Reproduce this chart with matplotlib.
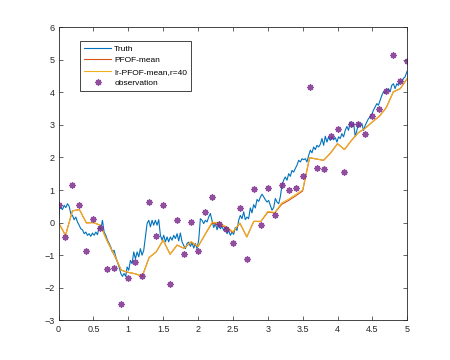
import numpy as np
import matplotlib
matplotlib.use("Agg")
import matplotlib.pyplot as plt

plt.rcParams['font.family'] = ['Liberation Sans', 'DejaVu Sans']

truth_t = [0.0, 0.01, 0.033, 0.057, 0.081, 0.105, 0.129, 0.153, 0.177, 0.2, 0.224, 0.248, 0.272, 0.296,
           0.32, 0.344, 0.368, 0.392, 0.415, 0.439, 0.463, 0.487, 0.511, 0.535, 0.559, 0.583, 0.606, 0.63,
           0.654, 0.678, 0.702, 0.726, 0.75, 0.773, 0.797, 0.821, 0.845, 0.869, 0.893, 0.917, 0.94, 0.964,
           0.984, 1.007, 1.031, 1.055, 1.079, 1.103, 1.127, 1.151, 1.174, 1.198, 1.222, 1.246, 1.27, 1.294,
           1.318, 1.342, 1.365, 1.389, 1.413, 1.437, 1.461, 1.485, 1.509, 1.533, 1.557, 1.58, 1.604, 1.628,
           1.652, 1.676, 1.70, 1.723, 1.747, 1.771, 1.795, 1.819, 1.843, 1.867, 1.891, 1.915, 1.939, 1.963,
           1.986, 2.01, 2.034, 2.058, 2.082, 2.106, 2.13, 2.153, 2.177, 2.201, 2.225, 2.249, 2.273, 2.297,
           2.321, 2.344, 2.368, 2.392, 2.416, 2.44, 2.464, 2.488, 2.511, 2.535, 2.559, 2.583, 2.607, 2.631,
           2.655, 2.678, 2.702, 2.726, 2.75, 2.774, 2.798, 2.822, 2.846, 2.87, 2.894, 2.918, 2.942, 2.966,
           2.989, 3.013, 3.037, 3.061, 3.085, 3.109, 3.133, 3.157, 3.18, 3.204, 3.228, 3.252, 3.276, 3.3,
           3.324, 3.347, 3.371, 3.395, 3.419, 3.443, 3.467, 3.491, 3.515, 3.539, 3.562, 3.586, 3.61, 3.634,
           3.658, 3.682, 3.705, 3.729, 3.753, 3.777, 3.801, 3.825, 3.849, 3.872, 3.896, 3.92, 3.944, 3.968,
           3.992, 4.015, 4.039, 4.063, 4.087, 4.111, 4.135, 4.158, 4.182, 4.206, 4.23, 4.254, 4.278, 4.301,
           4.325, 4.349, 4.373, 4.397, 4.421, 4.444, 4.468, 4.492, 4.516, 4.54, 4.564, 4.587, 4.611, 4.635,
           4.659, 4.683, 4.707, 4.73, 4.754, 4.778, 4.802, 4.826, 4.85, 4.873, 4.897, 4.921, 4.945, 4.969,
           4.993, 5.0]
truth_y = [0.0, 0.40, 0.46, 0.40, 0.53, 0.46, 0.58, 0.50, 0.27, 0.22, 0.09, 0.17, 0.02, -0.08,
           -0.19, -0.22, -0.34, -0.29, -0.39, -0.34, -0.42, -0.32, -0.39, -0.29, -0.37, -0.13, -0.22, 0.07,
           -0.29, -0.39, -0.54, -0.64, -0.75, -0.90, -0.85, -1.05, -1.21, -1.36, -1.56, -1.65, -1.56, -1.65,
           -1.36, -1.46, -1.16, -1.26, -0.90, -1.11, -0.90, -1.05, -0.80, -1.0, -0.85, -0.44, -0.03, 0.07,
           -0.13, 0.07, -0.08, 0.07, -0.08, 0.09, -0.39, -0.54, -0.39, -0.59, -0.44, -0.59, -0.44, -0.54,
           -0.39, -0.49, -0.34, -0.56, -0.32, -0.59, -0.70, -0.80, -0.64, -0.60, -0.73, -0.62, -0.78, -0.64,
           -0.80, -0.54, 0.12, 0.07, -0.03, 0.07, 0.02, 0.17, 0.28, 0.07, -0.15, -0.03, -0.22, -0.08,
           -0.19, -0.11, -0.24, -0.13, -0.34, -0.24, -0.39, -0.29, -0.36, -0.15, -0.24, 0.07, 0.22, 0.12,
           0.33, 0.09, 0.17, 0.12, 0.45, 0.30, 0.55, 0.45, 0.71, 0.65, 0.78, 0.87, 0.79, 0.70,
           0.63, 0.68, 0.53, 0.38, 0.46, 0.74, 0.63, 0.58, 0.79, 1.14, 1.30, 1.40, 1.30, 1.50,
           1.42, 1.60, 1.55, 1.66, 1.76, 1.91, 1.86, 1.96, 1.93, 1.96, 1.86, 2.06, 2.22, 2.14,
           2.32, 2.24, 2.37, 2.32, 2.40, 2.58, 2.37, 2.65, 2.47, 2.63, 2.52, 2.63, 2.54, 2.61,
           2.47, 2.63, 2.58, 2.73, 2.63, 2.83, 2.95, 2.83, 3.09, 2.93, 3.06, 2.65, 2.83, 3.04,
           2.93, 3.04, 2.83, 2.98, 3.09, 3.19, 3.24, 3.32, 3.45, 3.55, 3.65, 3.60, 3.75, 3.90,
           4.01, 3.96, 4.06, 4.11, 4.01, 4.21, 4.26, 4.11, 4.26, 4.21, 4.34, 4.31, 4.42, 4.47,
           4.62, 4.65]

obs_t = [round(0.1 * i, 1) for i in range(51)]
obs_y = [0.54, -0.45, 1.14, 0.54, -0.88, 0.12, -0.18, -1.41, -1.38, -2.50,
         -1.69, -1.22, -1.65, 0.62, -0.40, 0.53, -1.89, 0.09, -0.95, 0.01,
         -0.87, 0.34, 0.79, -0.03, -0.21, -0.64, 0.44, -1.12, 1.04, -0.07,
         1.07, 0.23, 1.15, 1.01, 1.07, 1.42, 4.17, 1.69, 1.63, 2.65,
         2.88, 1.55, 3.02, 3.02, 2.73, 3.26, 3.47, 4.03, 5.14, 4.35, 4.95]

pfof_y = [0.0, -0.39, 0.36, 0.40, -0.01, 0.0, -0.08, -0.57, -1.0, -1.46,
          -1.53, -1.57, -1.65, -1.07, -0.90, -0.54, -0.97, -0.69, -0.79, -0.60,
          -0.74, -0.37, -0.02, -0.06, -0.15, -0.30, -0.02, -0.44, 0.04, 0.03,
          0.32, 0.30, 0.56, 0.68, 0.82, 0.97, 1.99, 1.95, 1.91, 2.13,
          2.42, 2.24, 2.52, 2.76, 2.90, 3.09, 3.26, 3.53, 4.01, 4.11, 4.42]
lr_y = [0.0, -0.39, 0.36, 0.40, -0.01, 0.0, -0.08, -0.58, -0.98, -1.46,
        -1.52, -1.57, -1.65, -1.07, -0.90, -0.54, -0.97, -0.69, -0.79, -0.58,
        -0.73, -0.37, 0.01, 0.0, -0.12, -0.28, -0.01, -0.44, 0.04, 0.04,
        0.34, 0.31, 0.60, 0.72, 0.86, 1.00, 1.99, 1.95, 1.91, 2.14,
        2.42, 2.24, 2.52, 2.76, 2.90, 3.09, 3.26, 3.53, 4.01, 4.11, 4.42]

fig = plt.figure(figsize=(4.5, 3.6), dpi=100)
ax = fig.add_axes([0.13, 0.11, 0.775, 0.815])

ax.plot(truth_t, truth_y, color='#0072BD', lw=0.8, label='Truth')
ax.plot(obs_t, pfof_y, color='#D95319', lw=0.8, label='PFOF-mean')
ax.plot(obs_t, lr_y, color='#EDB120', lw=0.8, label='lr-PFOF-mean,r=40')
ax.plot(obs_t, obs_y, linestyle='none', marker=(8, 2, 0), color='#7E2F8E',
        markersize=4.5, markeredgewidth=1.0, alpha=0.85, label='observation')

ax.set_xlim(0, 5)
ax.set_ylim(-3, 6)
ax.set_xticks(np.arange(0, 5.01, 0.5))
ax.set_xticklabels(['0', '0.5', '1', '1.5', '2', '2.5', '3', '3.5', '4', '4.5', '5'])
ax.set_yticks(np.arange(-3, 7, 1))
ax.tick_params(direction='in', top=True, right=True, labelsize=6.5, length=3,
               width=0.5, colors='#262626', pad=3)
for s in ax.spines.values():
    s.set_linewidth(0.6)
    s.set_color('#262626')

leg = ax.legend(loc='upper left', bbox_to_anchor=(0.063, 0.952), fontsize=6,
                handlelength=3.2, handletextpad=0.4, borderpad=0.45,
                labelspacing=0.45, fancybox=False, framealpha=1,
                edgecolor='#262626', borderaxespad=0)
leg.get_frame().set_linewidth(0.6)

fig.savefig('out.png', dpi=100)
